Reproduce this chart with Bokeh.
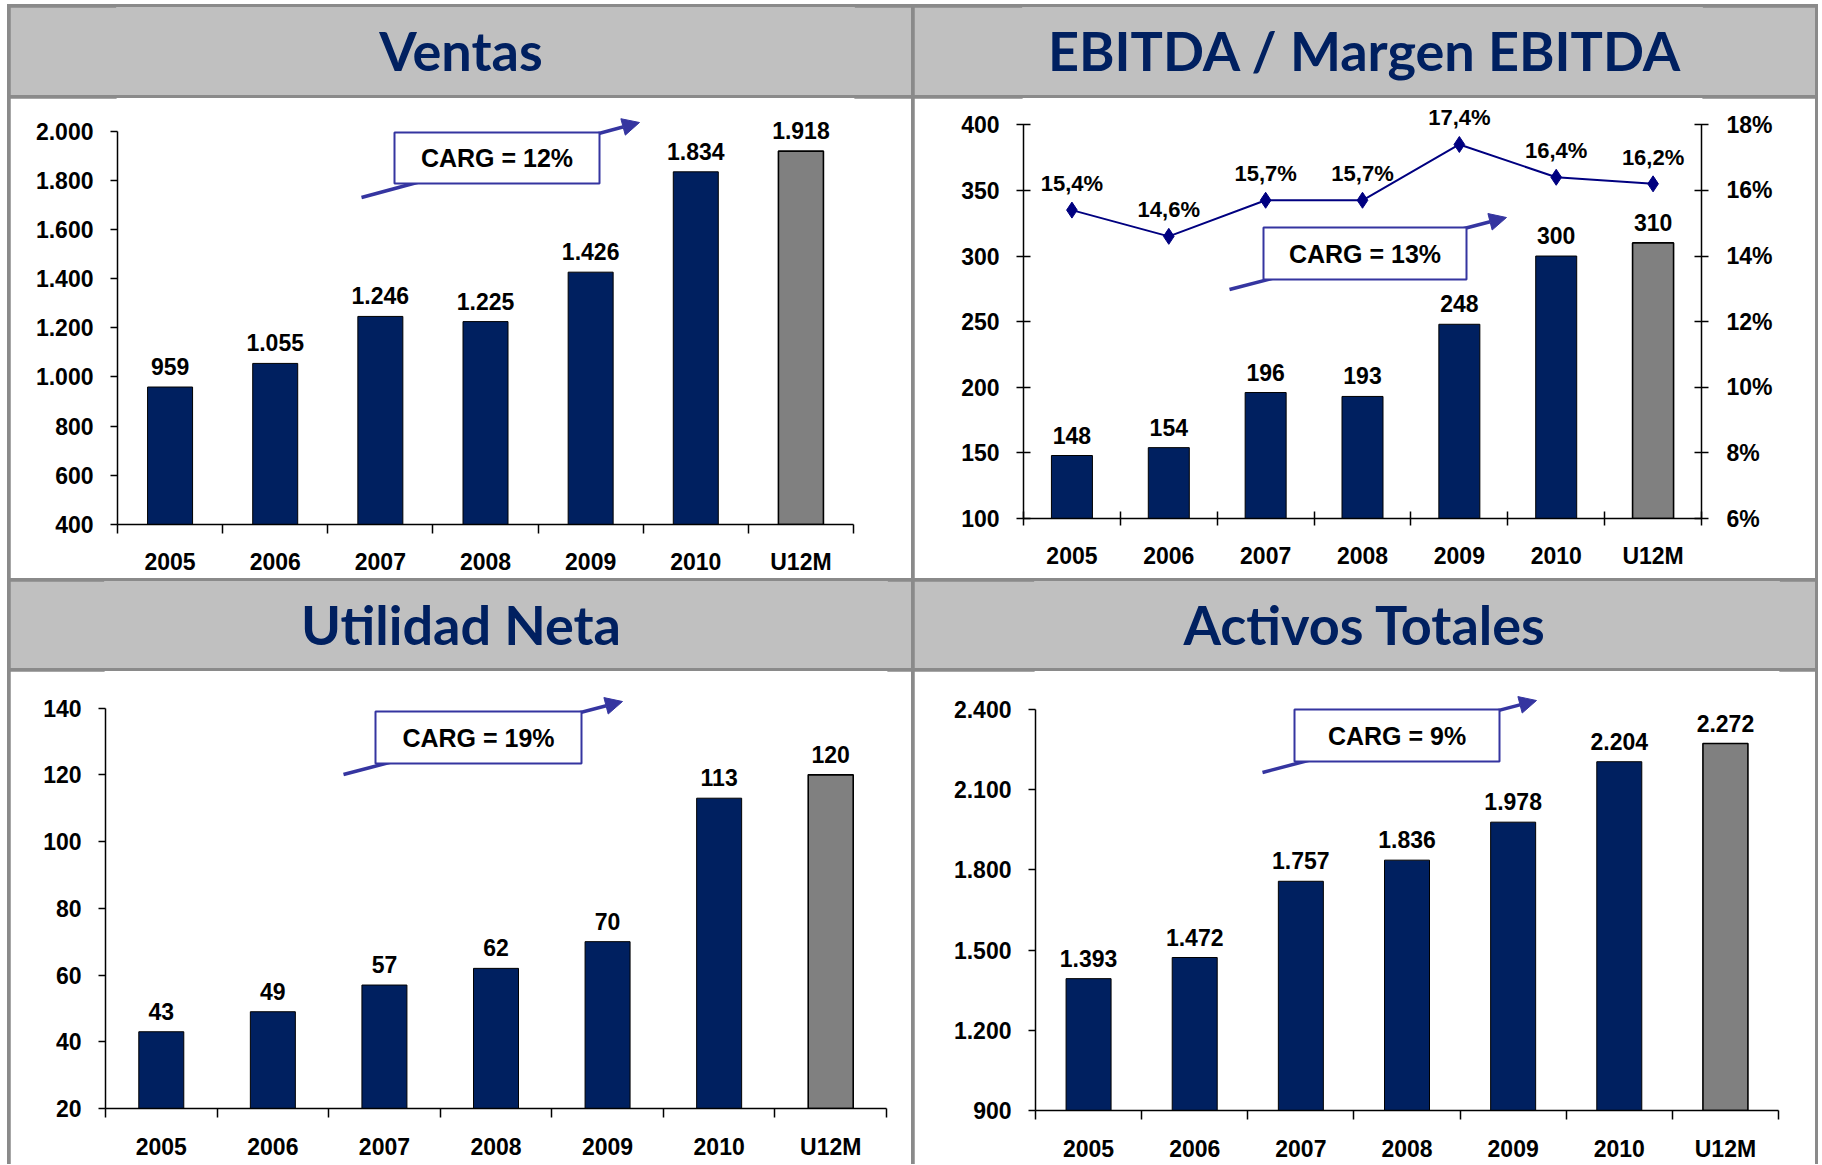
from bokeh.plotting import figure
from bokeh.models import (Range1d, LinearAxis, FixedTicker, ColumnDataSource,
                          BoxAnnotation, Label, Arrow, NormalHead)
from bokeh.layouts import column, row
from bokeh.embed import file_html
from bokeh.resources import INLINE
from bokeh.core.properties import value

# ---------------- data ----------------
categories = ["2005", "2006", "2007", "2008", "2009", "2010", "U12M"]
ventas = [959, 1055, 1246, 1225, 1426, 1834, 1918]
ebitda = [148, 154, 196, 193, 248, 300, 310]
margen_ebitda = [15.4, 14.6, 15.7, 15.7, 17.4, 16.4, 16.2]
utilidad_neta = [43, 49, 57, 62, 70, 113, 120]
activos_totales = [1393, 1472, 1757, 1836, 1978, 2204, 2272]

titles = ["Ventas", "EBITDA / Margen EBITDA", "Utilidad Neta", "Activos Totales"]
carg_texts = ["CARG = 12%", "CARG = 13%", "CARG = 19%", "CARG = 9%"]

ventas_ticks = [400, 600, 800, 1000, 1200, 1400, 1600, 1800, 2000]
ebitda_ticks = [100, 150, 200, 250, 300, 350, 400]
margen_ticks = [6, 8, 10, 12, 14, 16, 18]
utilidad_ticks = [20, 40, 60, 80, 100, 120, 140]
activos_ticks = [900, 1200, 1500, 1800, 2100, 2400]

# ---------------- style / layout ----------------
NAVY = "#002060"
GREY_BAR = "#808080"
HEADER_BG = "#c0c0c0"
BORDER = "#8a8a8a"
CARG_COLOR = "#3535a0"
LINE_COLOR = "#000080"
FONT = "Liberation Sans"
TITLE_FONT = "Lato"
W = 901
B = 3                      # border thickness
MARGIN_L, MARGIN_T = 7, 4  # page offset of outer border
HDR_H = [88, 87]
CHART_H = [480, 493]

# page origins of the chart areas
X_L = MARGIN_L + B
X_R = X_L + W + B
Y_1 = MARGIN_T + B + HDR_H[0] + B
Y_2 = Y_1 + CHART_H[0] + B + HDR_H[1] + B


def fmt_num(v):
    return f"{v:,}".replace(",", ".")


def fmt_pct(v):
    return f"{v:.1f}%".replace(".", ",")


def style_text_axis(ax, size="23px"):
    ax.major_label_text_font = FONT
    ax.major_label_text_font_style = "bold"
    ax.major_label_text_font_size = size
    ax.major_label_text_color = "black"
    ax.axis_line_color = "black"
    ax.axis_line_width = 1.5


def make_header(title, h, left, right):
    p = figure(width=W, height=h, x_range=Range1d(0, 1), y_range=Range1d(0, 1),
               output_backend="svg", toolbar_location=None,
               min_border_left=left, min_border_right=right,
               min_border_top=0, min_border_bottom=0,
               x_axis_location=None, y_axis_location=None)
    p.background_fill_color = HEADER_BG
    p.border_fill_color = HEADER_BG
    p.outline_line_color = HEADER_BG
    p.outline_line_width = 3
    p.xgrid.visible = False
    p.ygrid.visible = False
    xc = (W / 2 - left) / (W - left - right)
    p.text(x=[xc], y=[0.5], text=[title], text_align="center", text_baseline="middle",
           y_offset=-1, text_font=value(TITLE_FONT), text_font_style="bold",
           text_font_size="54px", text_color=NAVY)
    return p


def make_chart(values, ticks, cfg, carg_text, crossing=False):
    ox, oy, h = cfg["ox"], cfg["oy"], cfg["h"]
    left = int(round(cfg["yaxis_x"] - ox))
    right = int(round(W - (cfg["xaxis_end"] - ox)))
    px_min = int(round(cfg["ymin_px"] - oy))
    px_max = cfg["ymax_px"] - oy
    yscale = (px_min - px_max) / (ticks[-1] - ticks[0])
    y_end = ticks[-1] + px_max / yscale
    n = len(categories)
    xscale = (W - left - right) / n

    def to_x(px):
        return (px - ox - left) / xscale

    def to_y(py):
        return ticks[0] + (px_min - (py - oy)) / yscale

    p = figure(width=W, height=h, x_range=Range1d(0, n),
               y_range=Range1d(ticks[0], y_end),
               output_backend="svg", toolbar_location=None,
               min_border_left=left, min_border_right=right,
               min_border_top=0, min_border_bottom=int(h - px_min))
    p.background_fill_color = "white"
    p.border_fill_color = "white"
    p.outline_line_color = "white"
    p.outline_line_width = 2
    p.xgrid.visible = False
    p.ygrid.visible = False

    centers = [i + 0.5 for i in range(n)]
    colors = [NAVY] * (n - 1) + [GREY_BAR]
    lw = [1] * (n - 1) + [1.6]
    src = ColumnDataSource(dict(x=centers, top=values, color=colors, lw=lw,
                                label=[fmt_num(v) for v in values]))
    p.vbar(x="x", top="top", bottom=ticks[0], width=cfg["bw_px"] / xscale,
           fill_color="color", line_color="black", line_width="lw", source=src)
    p.text(x="x", y="top", text="label", text_align="center", text_baseline="bottom",
           y_offset=-12, text_font=value(FONT), text_font_style="bold",
           text_font_size="23px", text_color="black", source=src)

    # x axis: labels at category centres, tick marks at category boundaries
    xa = p.xaxis[0]
    xa.ticker = FixedTicker(ticks=centers, minor_ticks=list(range(n + 1)))
    xa.major_label_overrides = {c: cat for c, cat in zip(centers, categories)}
    xa.bounds = (0, n)
    xa.major_tick_line_color = None
    xa.major_tick_out = 0
    xa.major_tick_in = 0
    xa.minor_tick_line_color = "black"
    xa.minor_tick_line_width = 1.5
    xa.minor_tick_out = 7 if crossing else 9
    xa.minor_tick_in = 7 if crossing else 0
    xa.major_label_standoff = cfg["xstand"]
    style_text_axis(xa)

    ya = p.yaxis[0]
    ya.ticker = FixedTicker(ticks=ticks)
    ya.major_label_overrides = {t: fmt_num(t) for t in ticks}
    ya.bounds = (ticks[0], ticks[-1])
    ya.major_tick_out = 7
    ya.major_tick_in = 7 if crossing else 0
    ya.major_tick_line_color = "black"
    ya.major_tick_line_width = 1.5
    ya.minor_tick_line_color = None
    ya.major_label_standoff = 17
    style_text_axis(ya)

    # CARG call-out: arrow behind a framed box
    bx0, by0, bx1, by1 = cfg["box"]
    ax0, ay0, ax1, ay1 = cfg["arrow"]
    p.add_layout(Arrow(end=NormalHead(size=17, fill_color=CARG_COLOR, line_color=CARG_COLOR),
                       x_start=to_x(ax0), y_start=to_y(ay0), x_end=to_x(ax1), y_end=to_y(ay1),
                       line_color=CARG_COLOR, line_width=3.5))
    p.add_layout(BoxAnnotation(left=to_x(bx0), right=to_x(bx1), top=to_y(by0), bottom=to_y(by1),
                               fill_color="white", fill_alpha=1.0,
                               line_color=CARG_COLOR, line_width=2, line_alpha=1.0))
    p.add_layout(Label(x=to_x((bx0 + bx1) / 2), y=to_y((by0 + by1) / 2), text=carg_text,
                       text_align="center", text_baseline="middle",
                       text_font=FONT, text_font_style="bold", text_font_size="25px",
                       text_color="black"))
    return p, centers, left, right, px_min, px_max


# chart geometry in page pixels (axis positions, call-out placement)
cfg_ventas = dict(ox=X_L, oy=Y_1, h=CHART_H[0], yaxis_x=117, xaxis_end=853,
                  ymin_px=524, ymax_px=130.5, bw_px=45, xstand=15,
                  box=(394, 132, 599, 183), arrow=(361, 197, 639, 122))
cfg_ebitda = dict(ox=X_R, oy=Y_1, h=CHART_H[0], yaxis_x=1023, xaxis_end=1701,
                  ymin_px=518, ymax_px=124.3, bw_px=41, xstand=17,
                  box=(1263, 227, 1466, 279), arrow=(1229, 289, 1506, 217))
cfg_util = dict(ox=X_L, oy=Y_2, h=CHART_H[1], yaxis_x=105, xaxis_end=886,
                ymin_px=1108, ymax_px=707.6, bw_px=45, xstand=16,
                box=(375, 711, 581, 763), arrow=(343, 774, 622, 701))
cfg_activos = dict(ox=X_R, oy=Y_2, h=CHART_H[1], yaxis_x=1035, xaxis_end=1778,
                   ymin_px=1110, ymax_px=708.8, bw_px=45, xstand=16,
                   box=(1294, 709, 1499, 761), arrow=(1262, 772, 1536, 700))

c1, _, l1, r1, _, _ = make_chart(ventas, ventas_ticks, cfg_ventas, carg_texts[0])
c2, centers, l2, r2, pmin2, pmax2 = make_chart(ebitda, ebitda_ticks, cfg_ebitda,
                                                carg_texts[1], crossing=True)
c3, _, l3, r3, _, _ = make_chart(utilidad_neta, utilidad_ticks, cfg_util, carg_texts[2])
c4, _, l4, r4, _, _ = make_chart(activos_totales, activos_ticks, cfg_activos, carg_texts[3])

# EBITDA margin on a secondary axis
pscale = (pmin2 - pmax2) / (margen_ticks[-1] - margen_ticks[0])
c2.extra_y_ranges = {"pct": Range1d(margen_ticks[0], margen_ticks[-1] + pmax2 / pscale)}
pa = LinearAxis(y_range_name="pct", ticker=FixedTicker(ticks=margen_ticks),
                major_label_overrides={t: f"{t}%" for t in margen_ticks},
                bounds=(margen_ticks[0], margen_ticks[-1]))
pa.major_tick_out = 7
pa.major_tick_in = 7
pa.major_tick_line_color = "black"
pa.major_tick_line_width = 1.5
pa.minor_tick_line_color = None
pa.major_label_standoff = 18
style_text_axis(pa)
c2.add_layout(pa, "right")
msrc = ColumnDataSource(dict(x=centers, y=margen_ebitda, label=[fmt_pct(v) for v in margen_ebitda]))
c2.line(x="x", y="y", y_range_name="pct", line_color=LINE_COLOR, line_width=2, source=msrc)
c2.scatter(x="x", y="y", y_range_name="pct", marker="diamond", size=16,
           fill_color=LINE_COLOR, line_color=LINE_COLOR, source=msrc)
c2.text(x="x", y="y", text="label", y_range_name="pct", text_align="center",
        text_baseline="bottom", y_offset=-14, text_font=value(FONT), text_font_style="bold",
        text_font_size="22px", text_color="black", source=msrc)

h1 = make_header(titles[0], HDR_H[0], l1, r1)
h2 = make_header(titles[1], HDR_H[0], l2, r2)
h3 = make_header(titles[2], HDR_H[1], l3, r3)
h4 = make_header(titles[3], HDR_H[1], l4, r4)

top = row(column(h1, c1, spacing=B), column(h2, c2, spacing=B), spacing=B)
bottom = row(column(h3, c3, spacing=B), column(h4, c4, spacing=B), spacing=B)
root = column(top, bottom, spacing=B,
              styles={"background-color": BORDER, "padding": f"{B}px {B}px 0px {B}px",
                      "margin-left": f"{MARGIN_L}px", "margin-top": f"{MARGIN_T}px"})

open("out.html", "w").write(file_html(root, INLINE))
